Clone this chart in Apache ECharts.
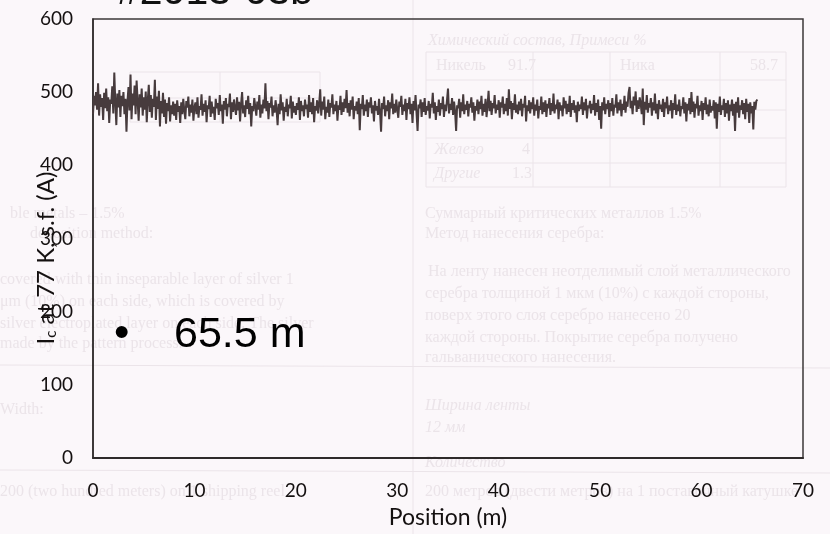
<!DOCTYPE html>
<html>
<head>
<meta charset="utf-8">
<script src="https://cdn.jsdelivr.net/npm/echarts@6/dist/echarts.min.js"></script>
<style>
  html, body { margin: 0; padding: 0; background: #fbf7fa; }
  #chart { width: 830px; height: 534px; }
</style>
</head>
<body>
<div id="chart"></div>
<script>
// Critical current scan of tape #2013-03b along its length
const positionStep = 0.1; // m between samples
const xTicks = [0, 10, 20, 30, 40, 50, 60, 70];
const yTicks = [0, 100, 200, 300, 400, 500, 600];

// Ic (A) every 0.1 m, 0.0 ... 65.5 m
const icValues = [
  470, 495, 482, 500, 476, 512, 468, 497, 480, 492,
  462, 499, 478, 505, 474, 493, 458, 490, 484, 508,
  471, 527, 486, 455, 498, 479, 503, 466, 495, 481,
  500, 470, 491, 446, 488, 507, 475, 524, 463, 498,
  482, 509, 470, 516, 488, 461, 497, 479, 505, 468,
  493, 476, 501, 459, 489, 510, 473, 496, 465, 491,
  480, 517, 462, 494, 477, 502, 453, 488, 471, 499,
  466, 490, 457, 485, 474, 493, 460, 482, 470, 487,
  468, 484, 462, 489, 473, 481, 458, 486, 470, 491,
  475, 463, 488, 479, 494, 467, 483, 472, 490, 461,
  479, 486, 470, 493, 465, 481, 476, 497, 468, 484,
  473, 489, 459, 482, 477, 495, 466, 487, 471, 480,
  462, 491, 478, 485, 469, 496, 474, 483, 457, 488,
  476, 492, 467, 484, 480, 498, 463, 486, 473, 490,
  478, 469, 493, 475, 487, 460, 484, 500, 471, 482,
  466, 489, 477, 495, 470, 485, 453, 481, 474, 492,
  480, 468, 487, 476, 496, 465, 483, 471, 490, 478,
  512, 474, 488, 463, 485, 479, 494, 467, 482, 472,
  489, 476, 455, 484, 470, 497, 475, 486, 461, 480,
  473, 491, 467, 483, 478, 495, 464, 487, 472, 481,
  469, 485, 476, 493, 462, 488, 474, 482, 467, 490,
  477, 483, 465, 496, 473, 486, 470, 492, 459, 481,
  475, 489, 471, 484, 504, 468, 487, 476, 494, 463,
  480, 472, 490, 466, 485, 479, 497, 470, 483, 474,
  488, 461, 482, 476, 495, 469, 486, 473, 491, 478,
  503, 472, 485, 467, 489, 476, 494, 463, 481, 475,
  487, 470, 492, 448, 484, 477, 496, 468, 483, 474,
  490, 466, 486, 479, 493, 471, 482, 460, 488, 475,
  481, 469, 491, 473, 446, 485, 477, 494, 467, 482,
  474, 489, 463, 486, 478, 498, 470, 484, 472, 490,
  476, 465, 487, 480, 495, 469, 483, 474, 491, 462,
  485, 477, 493, 470, 484, 458, 488, 475, 496, 471,
  447, 483, 478, 490, 466, 486, 473, 492, 469, 481,
  475, 488, 464, 484, 479, 499, 471, 486, 462, 481,
  473, 490, 468, 485, 477, 494, 466, 483, 474, 489,
  505, 471, 484, 476, 492, 469, 487, 473, 447, 482,
  478, 491, 465, 486, 474, 497, 470, 483, 476, 488,
  467, 484, 479, 493, 472, 486, 461, 481, 475, 490,
  470, 487, 477, 495, 468, 484, 473, 491, 466, 482,
  502, 474, 488, 469, 485, 478, 496, 471, 483, 476,
  489, 465, 486, 479, 494, 470, 484, 474, 492, 468,
  504, 477, 488, 463, 485, 476, 497, 472, 483, 470,
  487, 475, 491, 467, 484, 479, 495, 460, 482, 474,
  489, 471, 486, 477, 493, 468, 483, 475, 490, 464,
  481, 476, 494, 470, 486, 473, 489, 466, 484, 478,
  492, 469, 485, 474, 498, 471, 483, 477, 490, 463,
  486, 475, 482, 467, 493, 478, 488, 470, 484, 473,
  495, 466, 485, 476, 489, 472, 482, 459, 487, 474,
  483, 477, 494, 469, 486, 475, 491, 464, 482, 478,
  488, 471, 484, 476, 496, 468, 485, 473, 490, 462,
  481, 450, 486, 475, 493, 470, 484, 477, 489, 466,
  485, 474, 492, 468, 483, 479, 497, 471, 486, 475,
  490, 467, 484, 476, 495, 472, 487, 480, 499, 507,
  478, 488, 470, 494, 482, 501, 473, 489, 477, 493,
  484, 470, 505, 455, 487, 476, 496, 472, 485, 479,
  492, 468, 486, 475, 498, 471, 484, 463, 489, 477,
  483, 473, 491, 466, 486, 478, 494, 470, 482, 475,
  489, 464, 485, 476, 497, 469, 483, 474, 490, 467,
  481, 477, 493, 471, 486, 460, 484, 475, 492, 470,
  500, 473, 487, 465, 484, 478, 495, 468, 482, 474,
  488, 462, 485, 476, 493, 470, 483, 467, 490, 472,
  481, 475, 489, 464, 486, 450, 484, 473, 494, 469,
  482, 476, 491, 466, 485, 471, 489, 461, 483, 474,
  490, 468, 484, 447, 487, 472, 493, 465, 482, 476,
  489, 470, 485, 463, 491, 473, 484, 458, 486, 471,
  481, 449, 487, 476, 488, 490
];

const seriesData = icValues.map((v, i) => [+(i * positionStep).toFixed(1), v]);

const tickFont = 'Lato, "Open Sans", sans-serif';
const ghost = '#ebe4e9';
const ghostFont = '16px "Liberation Serif", "DejaVu Serif", serif';

// faint print showing through the page behind the plot
function ghostText(x, y, text, italic) {
  return {
    type: 'text', x, y, z: -10, silent: true,
    style: { text, fill: ghost, font: (italic ? 'italic ' : '') + ghostFont }
  };
}
function ghostLine(x1, y1, x2, y2) {
  return {
    type: 'line', z: -10, silent: true,
    shape: { x1, y1, x2, y2 },
    style: { stroke: ghost, lineWidth: 1 }
  };
}

const ghostLayer = [
  ghostLine(413, 0, 413, 534),
  ghostLine(426, 52, 786, 52), ghostLine(426, 80, 786, 80), ghostLine(426, 110, 786, 110),
  ghostLine(426, 138, 786, 138), ghostLine(426, 163, 786, 163), ghostLine(426, 187, 786, 187),
  ghostLine(426, 52, 426, 187), ghostLine(533, 52, 533, 187), ghostLine(610, 52, 610, 187),
  ghostLine(720, 52, 720, 187), ghostLine(786, 52, 786, 187),
  ghostLine(130, 72, 320, 72), ghostLine(130, 98, 320, 98), ghostLine(130, 122, 320, 122),
  ghostLine(130, 72, 130, 122), ghostLine(220, 72, 220, 122), ghostLine(320, 72, 320, 122),
  ghostLine(0, 365, 830, 368), ghostLine(0, 470, 830, 473),
  ghostText(428, 33, 'Химический состав, Примеси %', true),
  ghostText(436, 58, 'Никель'), ghostText(508, 58, '91.7'), ghostText(620, 58, 'Ника'), ghostText(750, 58, '58.7'),
  ghostText(434, 142, 'Железо', true), ghostText(522, 142, '4'),
  ghostText(434, 166, 'Другие', true), ghostText(512, 166, '1.3'),
  ghostText(425, 206, 'Суммарный критических металлов 1.5%'),
  ghostText(425, 226, 'Метод нанесения серебра:'),
  ghostText(10, 206, 'ble metals – 1.5%'),
  ghostText(30, 226, 'deposition method:'),
  ghostText(428, 264, 'На ленту нанесен неотделимый слой металлического'),
  ghostText(425, 286, 'серебра толщиной 1 мкм (10%) с каждой стороны,'),
  ghostText(425, 308, 'поверх этого слоя серебро нанесено 20'),
  ghostText(425, 330, 'каждой стороны. Покрытие серебра получено'),
  ghostText(425, 350, 'гальванического нанесения.'),
  ghostText(0, 272, 'covered with thin inseparable layer of silver 1'),
  ghostText(0, 294, 'μm (10%) on each side, which is covered by'),
  ghostText(0, 316, 'silver electroplated layer on each side. The silver'),
  ghostText(0, 336, 'made by the pattern process.'),
  ghostText(0, 402, 'Width:'),
  ghostText(425, 398, 'Ширина ленты', true),
  ghostText(425, 420, '12 мм', true),
  ghostText(425, 455, 'Количество', true),
  ghostText(425, 484, '200 метров (двести метров) на 1 поставочный катушке'),
  ghostText(0, 484, '200 (two hundred meters) on 1 shipping reel')
];

const chart = echarts.init(document.getElementById('chart'), null, { renderer: 'canvas' });

chart.setOption({
  animation: false,
  backgroundColor: '#fbf7fa',
  grid: {
    left: 93, right: 27, top: 19, bottom: 72,
    show: true, borderColor: '#3c3838', borderWidth: 1.5, backgroundColor: 'transparent'
  },
  xAxis: {
    type: 'value', min: 0, max: 70, interval: 10,
    axisLine: { show: true, lineStyle: { color: '#2e2a2a', width: 2 } },
    axisTick: { show: false },
    splitLine: { show: false },
    axisLabel: {
      color: '#141010', fontFamily: tickFont, fontSize: 19, margin: 23,
      formatter: v => xTicks.includes(v) ? String(v) : ''
    },
    name: 'Position (m)', nameLocation: 'middle', nameGap: 48,
    nameTextStyle: { color: '#141010', fontFamily: tickFont, fontSize: 23 }
  },
  yAxis: {
    type: 'value', min: 0, max: 600, interval: 100,
    axisLine: { show: true, lineStyle: { color: '#2e2a2a', width: 1.5 } },
    axisTick: { show: false },
    splitLine: { show: false },
    axisLabel: {
      color: '#141010', fontFamily: tickFont, fontSize: 19, margin: 20,
      formatter: v => yTicks.includes(v) ? String(v) : ''
    }
  },
  graphic: ghostLayer.concat([
    {
      type: 'text', left: 117, top: -28,
      style: { text: '#2013-03b', font: '41px "Liberation Sans", Arial, sans-serif', fill: '#111' }
    },
    {
      type: 'text', x: 46, y: 258, rotation: Math.PI / 2,
      style: {
        text: '{i|I}{s|c}{i| at 77 K, s.f. (A)}',
        align: 'center', verticalAlign: 'middle',
        rich: {
          i: { fontFamily: tickFont, fontSize: 24, lineHeight: 26, fill: '#141010' },
          s: { fontFamily: tickFont, fontSize: 15, lineHeight: 15, fill: '#141010', verticalAlign: 'bottom' }
        }
      }
    },
    {
      type: 'text', left: 114, top: 313,
      style: { text: '•', font: '44px "Liberation Sans", Arial, sans-serif', fill: '#000' }
    },
    {
      type: 'text', left: 174, top: 314,
      style: { text: '65.5 m', font: '43px "Liberation Sans", Arial, sans-serif', fill: '#000' }
    }
  ]),
  series: [{
    type: 'line',
    data: seriesData,
    showSymbol: false,
    symbol: 'none',
    lineStyle: { color: '#473b3d', width: 2 },
    z: 3
  }]
});
</script>
</body>
</html>
